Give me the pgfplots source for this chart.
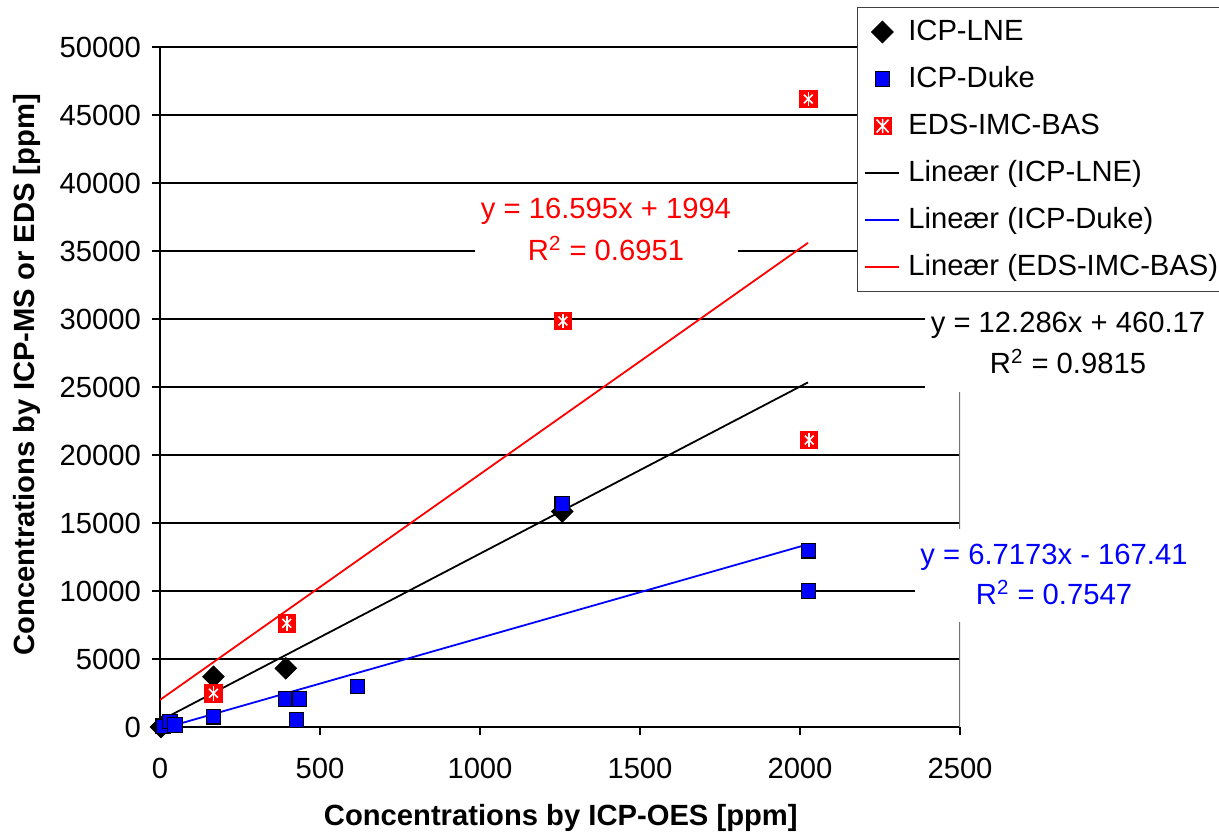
\documentclass[border=0pt]{standalone}
\usepackage{fontspec}
\setmainfont{Liberation Sans}
\usepackage{pgfplots}
\pgfplotsset{compat=1.18}
\pgfplotsset{
  lineleg/.style={legend image code/.code={\draw[##1] (0pt,0pt) -- (17pt,0pt);}},
  markleg/.style={legend image code/.code={\draw[mark repeat=2,mark phase=2,##1] plot coordinates {(0pt,0pt) (8.5pt,0pt) (17pt,0pt)};}},
}
\newcommand{\fs}{\fontsize{14.6}{17}\selectfont}
\begin{document}
\begin{tikzpicture}
\useasboundingbox (0,0) rectangle (609.5pt,417.5pt);
\begin{axis}[
  at={(80pt,54pt)}, anchor=south west,
  scale only axis, width=400pt, height=340pt,
  xmin=0, xmax=2500, ymin=0, ymax=50000,
  xtick={0,500,...,2500}, ytick={0,5000,...,50000},
  axis x line*=bottom, axis y line*=left,
  axis line style={line width=0.7pt, -},
  tick align=outside, major tick length=4pt,
  tick style={black, line width=0.6pt},
  ymajorgrids, grid style={black, line width=0.6pt},
  font=\fs,
  ticklabel style={font=\fs},
  xticklabel shift=8pt,
  yticklabel shift=2pt,
  /pgf/number format/assume math mode=true,
  /pgf/number format/set thousands separator={},
  scaled ticks=false,
  xlabel={\bfseries Concentrations by ICP-OES [ppm]},
  ylabel={\bfseries Concentrations by ICP-MS or EDS [ppm]},
  xlabel style={at={(axis description cs:0.501,-0.134)}, anchor=center},
  ylabel style={at={(axis description cs:-0.166,0.518)}, anchor=center},
  legend cell align=left,
  legend style={at={(axis description cs:0.87125,1.0588)}, anchor=north west,
    draw=black!75, line width=0.5pt, font=\fs,
    inner xsep=3.5pt, inner ysep=6pt, row sep=11pt, column sep=4pt,
    nodes={inner sep=0pt, text height=10.5pt, text depth=2pt}},
  lineleg,
]
% trend lines (behind markers)
\addplot[black, line width=0.9pt, forget plot] coordinates {(0,460.17) (2025,25339)};
\addplot[blue, line width=0.9pt, forget plot] coordinates {(0,-167.41) (2025,13435)};
\addplot[red, line width=0.9pt, forget plot] coordinates {(0,1994) (2025,35599)};
% ICP-LNE
\addplot[only marks, mark=square*, mark size=3.8pt, mark options={rotate=45, fill=black, draw=black}, markleg]
  coordinates {(3,0) (167,3700) (393,4316) (1257,15850)};
\addlegendentry{ICP-LNE}
% ICP-Duke
\addplot[only marks, mark=square*, mark size=3.6pt, mark options={fill=blue, draw=black, line width=0.6pt}, markleg]
  coordinates {(10,60) (31,390) (47,150) (167,757) (393,2059) (435,2059) (427,515) (617,2966) (1257,16400) (2026,12963) (2026,10000)};
\addlegendentry{ICP-Duke}
% EDS-IMC-BAS
\addplot[only marks, mark=square*, mark size=4.3pt, mark options={fill=red, draw=red},
  legend image code/.code={\fill[red] (4.3pt,-4.3pt) rectangle (12.9pt,4.3pt);
    \draw[white, line width=0.8pt] (8.6pt,-3.6pt) -- (8.6pt,3.6pt) (5.6pt,-3.2pt) -- (11.6pt,3.2pt) (5.6pt,3.2pt) -- (11.6pt,-3.2pt);}]
  coordinates {(167,2478) (396,7625) (1259,29853) (2026,46176) (2029,21100)};
\addlegendentry{EDS-IMC-BAS}
\addplot[only marks, mark=x, mark size=3.1pt, mark options={draw=white, line width=0.8pt}, forget plot]
  coordinates {(167,2478) (396,7625) (1259,29853) (2026,46176) (2029,21100)};
\addplot[only marks, mark=|, mark size=3.6pt, mark options={draw=white, line width=0.8pt}, forget plot]
  coordinates {(167,2478) (396,7625) (1259,29853) (2026,46176) (2029,21100)};
\addlegendimage{black, line width=0.9pt}
\addlegendentry{Lineær (ICP-LNE)}
\addlegendimage{blue, line width=0.9pt}
\addlegendentry{Lineær (ICP-Duke)}
\addlegendimage{red, line width=0.9pt}
\addlegendentry{Lineær (EDS-IMC-BAS)}
\draw[black!55, line width=0.7pt] (rel axis cs:1,0) -- (rel axis cs:1,1);
\end{axis}
% equation boxes
\fill[white] (237.5pt,281.5pt) rectangle (369pt,324.5pt);
\fill[white] (462.5pt,221.5pt) rectangle (612pt,271.5pt);
\fill[white] (457.5pt,106.5pt) rectangle (612pt,153pt);
\node[red, font=\fs, anchor=base, inner sep=0pt] at (303pt,308pt) {y = 16.595x + 1994};
\node[red, font=\fs, anchor=base, inner sep=0pt] at (303pt,287pt) {R\textsuperscript{2} = 0.6951};
\node[black, font=\fs, anchor=base, inner sep=0pt] at (534pt,251pt) {y = 12.286x + 460.17};
\node[black, font=\fs, anchor=base, inner sep=0pt] at (534pt,230.5pt) {R\textsuperscript{2} = 0.9815};
\node[blue, font=\fs, anchor=base, inner sep=0pt] at (527pt,135pt) {y = 6.7173x - 167.41};
\node[blue, font=\fs, anchor=base, inner sep=0pt] at (527pt,115pt) {R\textsuperscript{2} = 0.7547};
\end{tikzpicture}
\end{document}
